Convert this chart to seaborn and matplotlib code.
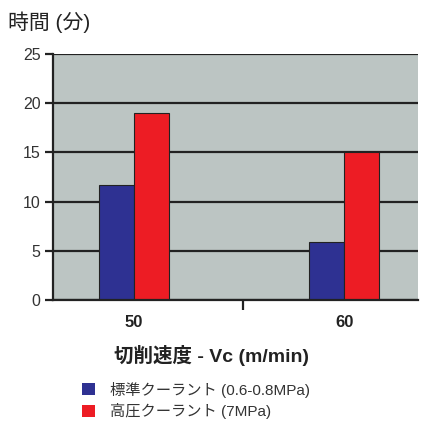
import matplotlib
matplotlib.use("Agg")
import matplotlib.pyplot as plt
import seaborn as sns
import pandas as pd
from matplotlib.patches import Patch

speeds = ["50", "60"]
standard = [11.7, 5.9]
high = [19.0, 15.0]
series_names = ["標準クーラント (0.6-0.8MPa)", "高圧クーラント (7MPa)"]
yticks = [0, 5, 10, 15, 20, 25]

df = pd.DataFrame({
    "speed": speeds * 2,
    "time": standard + high,
    "series": [series_names[0]] * 2 + [series_names[1]] * 2,
})

sns.set_theme(style="white")
plt.rcParams["font.family"] = ["Liberation Sans", "Noto Sans CJK JP", "DejaVu Sans"]

fig = plt.figure(figsize=(4.21, 4.23), dpi=100)
ax = fig.add_axes([53 / 421, 123 / 423, 365 / 421, 246 / 423])
ax.set_facecolor("#BCC5C3")

colors = ["#2E3192", "#ED1C24"]
sns.barplot(data=df, x="speed", y="time", hue="series", palette=colors,
            width=0.333, gap=0, edgecolor="#222222", linewidth=0.8,
            ax=ax, legend=False, zorder=3, saturation=1)

ax.set_xlim(-0.386, 1.352)
ax.set_ylim(0, 25)
ax.set_yticks(yticks)
ax.yaxis.grid(True, color="#222222", linewidth=1.6, zorder=1)
ax.set_axisbelow(True)
for s in ["top", "right"]:
    ax.spines[s].set_visible(False)
for s in ["left", "bottom"]:
    ax.spines[s].set_color("#222222")
    ax.spines[s].set_linewidth(1.6)
    ax.spines[s].set_zorder(4)

ax.tick_params(axis="y", which="major", left=True, length=6, width=1.6,
               color="#222222", labelsize=11.5, labelcolor="#333333", pad=3)
ax.tick_params(axis="x", which="major", bottom=False, labelsize=12,
               labelcolor="#222222", pad=5)
for lab in ax.get_xticklabels():
    lab.set_fontweight("bold")
ax.set_xticks([0.52], minor=True)
ax.tick_params(axis="x", which="minor", bottom=True, length=7, width=1.6,
               color="#222222")

ax.set_xlabel("切削速度 - Vc (m/min)", fontsize=14, fontweight="bold",
              color="#222222")
ax.xaxis.set_label_coords((211 - 53) / 365, -(355 - 300) / 246)
ax.xaxis.label.set_va("center")
ax.set_ylabel("")

fig.text(8 / 421, 1 - 22 / 423, "時間 (分)", fontsize=15, color="#222222",
         va="center", ha="left")

handles = [Patch(facecolor=c, edgecolor="none") for c in colors]
fig.legend(handles, series_names, loc="upper left",
           bbox_to_anchor=(74 / 421, 1 - 374 / 423), frameon=False,
           fontsize=11, handlelength=0.85, handleheight=0.85,
           handletextpad=1.0, labelspacing=0.35, borderpad=0,
           labelcolor="#333333")

fig.savefig("out.png", dpi=100)
